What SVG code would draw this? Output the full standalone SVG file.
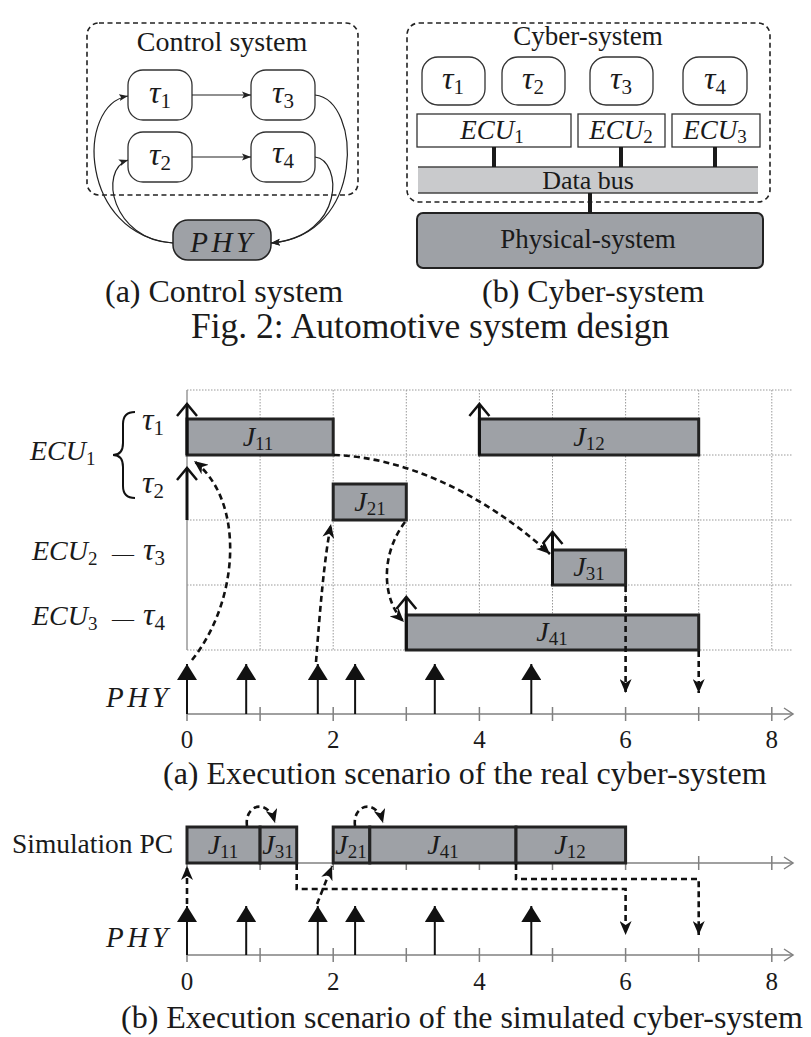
<svg xmlns="http://www.w3.org/2000/svg" width="811" height="1037" viewBox="0 0 811 1037">
<style>
.t{font-family:"Liberation Serif","Times New Roman",serif;fill:#1a1a1a}
.m{font-family:"Liberation Serif","Times New Roman",serif;font-style:italic;fill:#1a1a1a}
.s{font-style:normal}
.tau{font-size:32px}
.tsub{font-size:21px;font-style:normal}
.jl{font-size:28px}
.jsub{font-size:19px;font-style:normal}
.phyl{font-size:29px;letter-spacing:3.5px}
.dbox{fill:none;stroke:#222;stroke-width:1.6;stroke-dasharray:5 3.5}
.node{fill:#fff;stroke:#333;stroke-width:1.3}
.gray{fill:#9ea1a6;stroke:#222;stroke-width:2}
.bar{fill:#9ea1a6;stroke:#222;stroke-width:3}
.thin{fill:none;stroke:#222;stroke-width:1.2}
.grid{stroke:#999;stroke-width:1;stroke-dasharray:1.5 1.5;fill:none}
.axis{stroke:#808080;stroke-width:1.5;fill:none}
.rel{stroke:#111;stroke-width:3;fill:none}
.phy{stroke:#111;stroke-width:2;fill:none}
.dsh{stroke:#111;stroke-width:2.6;stroke-dasharray:6 4;fill:none}
.link{stroke:#1a1a1a;stroke-width:4}
</style>
<defs>
<marker id="sm" markerUnits="userSpaceOnUse" markerWidth="10" markerHeight="8" refX="9" refY="4" orient="auto"><path d="M0,0.5 L9,4 L0,7.5 L2,4 z" fill="#222"/></marker>
<marker id="st" markerUnits="userSpaceOnUse" markerWidth="16" markerHeight="12" refX="14" refY="6" orient="auto"><path d="M0,0 L14,6 L0,12 L4,6 z" fill="#111"/></marker>
<marker id="tri" markerUnits="userSpaceOnUse" markerWidth="17" markerHeight="20" refX="16" refY="10" orient="auto"><path d="M0,0 L16,10 L0,20 z" fill="#111"/></marker>
<marker id="op" markerUnits="userSpaceOnUse" markerWidth="16" markerHeight="24" refX="13" refY="11" orient="auto"><path d="M1,1 L13,11 L1,21" fill="none" stroke="#111" stroke-width="2.5"/></marker>
<marker id="ax" markerUnits="userSpaceOnUse" markerWidth="12" markerHeight="16" refX="10" refY="7" orient="auto"><path d="M1,1 L10,7 L1,13" fill="none" stroke="#808080" stroke-width="1.5"/></marker>
</defs>

<!-- ===== (a) Control system ===== -->
<g id="control-system-frame">
<rect class="dbox" x="87" y="23" width="271" height="172" rx="12"/>
<text class="t" x="222" y="51" font-size="28" text-anchor="middle">Control system</text>
</g>
<g id="cs-tau1"><rect class="node" x="128" y="70" width="64" height="50" rx="15"/><text class="m tau" x="160" y="103" text-anchor="middle">τ<tspan class="tsub" dy="5">1</tspan></text></g>
<g id="cs-tau3"><rect class="node" x="251" y="70" width="64" height="50" rx="15"/><text class="m tau" x="283" y="103" text-anchor="middle">τ<tspan class="tsub" dy="5">3</tspan></text></g>
<g id="cs-tau2"><rect class="node" x="128" y="132" width="64" height="50" rx="15"/><text class="m tau" x="160" y="165" text-anchor="middle">τ<tspan class="tsub" dy="5">2</tspan></text></g>
<g id="cs-tau4"><rect class="node" x="251" y="132" width="64" height="50" rx="15"/><text class="m tau" x="283" y="163" text-anchor="middle">τ<tspan class="tsub" dy="5">4</tspan></text></g>
<g id="cs-phy"><rect class="gray" x="173" y="220" width="98" height="40" rx="15" style="stroke-width:1.5"/><text class="m phyl" x="223" y="252" text-anchor="middle">PHY</text></g>
<g id="cs-connectors">
<path class="thin" d="M192 95 L251 95" marker-end="url(#sm)"/>
<path class="thin" d="M192 157 L251 157" marker-end="url(#sm)"/>
<path class="thin" d="M173 243 C80 235 75 105 128 96" marker-end="url(#sm)"/>
<path class="thin" d="M173 243 C112 240 98 170 128 160" marker-end="url(#sm)"/>
<path class="thin" d="M315 95 C362 100 366 236 271 243" marker-end="url(#sm)"/>
<path class="thin" d="M315 157 C342 160 346 236 271 243" marker-end="url(#sm)"/>
</g>
<text class="t" x="105" y="302" font-size="32">(a) Control system</text>

<!-- ===== (b) Cyber-system ===== -->
<g id="cyber-system-frame">
<rect class="dbox" x="407" y="23" width="363" height="179" rx="12"/>
<text class="t" x="588" y="45" font-size="27" text-anchor="middle">Cyber-system</text>
</g>
<g id="cy-tau1"><rect class="node" x="422" y="57" width="63" height="48" rx="16"/><text class="m tau" x="453" y="89" text-anchor="middle">τ<tspan class="tsub" dy="5">1</tspan></text></g>
<g id="cy-tau2"><rect class="node" x="502" y="57" width="63" height="48" rx="16"/><text class="m tau" x="533" y="89" text-anchor="middle">τ<tspan class="tsub" dy="5">2</tspan></text></g>
<g id="cy-tau3"><rect class="node" x="590" y="57" width="63" height="48" rx="16"/><text class="m tau" x="621" y="89" text-anchor="middle">τ<tspan class="tsub" dy="5">3</tspan></text></g>
<g id="cy-tau4"><rect class="node" x="683" y="57" width="64" height="48" rx="16"/><text class="m tau" x="715" y="89" text-anchor="middle">τ<tspan class="tsub" dy="5">4</tspan></text></g>
<g id="cy-ecu1"><rect class="node" x="417" y="114" width="154" height="33"/><text class="m" x="492" y="139" font-size="27" text-anchor="middle">ECU<tspan class="s" font-size="19" dy="4">1</tspan></text></g>
<g id="cy-ecu2"><rect class="node" x="578" y="114" width="87" height="33"/><text class="m" x="621" y="139" font-size="27" text-anchor="middle">ECU<tspan class="s" font-size="19" dy="4">2</tspan></text></g>
<g id="cy-ecu3"><rect class="node" x="672" y="114" width="88" height="33"/><text class="m" x="715" y="139" font-size="27" text-anchor="middle">ECU<tspan class="s" font-size="19" dy="4">3</tspan></text></g>
<g id="cy-bus">
<rect x="418" y="167" width="340" height="26" fill="#c9cacc"/>
<line x1="418" y1="167" x2="758" y2="167" stroke="#444" stroke-width="1.5"/>
<line x1="418" y1="193" x2="758" y2="193" stroke="#444" stroke-width="1.5"/>
<text class="t" x="588" y="189" font-size="26" text-anchor="middle">Data bus</text>
</g>
<g id="cy-physical"><rect class="gray" x="417" y="213" width="346" height="55" rx="6"/><text class="t" x="588" y="248" font-size="27" text-anchor="middle">Physical-system</text></g>
<g id="cy-connectors">
<line class="link" x1="494" y1="147" x2="494" y2="167"/>
<line class="link" x1="621" y1="147" x2="621" y2="167"/>
<line class="link" x1="715" y1="147" x2="715" y2="167"/>
<line class="link" x1="590" y1="193" x2="590" y2="213"/>
</g>
<text class="t" x="482" y="302" font-size="32">(b) Cyber-system</text>
<text class="t" x="191" y="338" font-size="35.5">Fig. 2: Automotive system design</text>

<!-- ===== Execution scenario (a) ===== -->
<g id="grid-a">
<path class="grid" d="M187 390 H793 M187 455 H793 M187 520 H793 M187 585 H793 M187 650 H793"/>
<path class="grid" d="M260.1 390 V650 M333.2 390 V650 M406.3 390 V650 M479.4 390 V650 M552.5 390 V650 M625.6 390 V650 M698.7 390 V650 M771.8 390 V650"/>
<line x1="187" y1="390" x2="187" y2="650" stroke="#999" stroke-width="1.5"/>
</g>
<g id="labels-a">
<text class="m" x="30" y="460" font-size="28">ECU<tspan class="s" font-size="19" dy="5">1</tspan></text>
<path d="M135 412 Q123 412 123 424 L123 443 Q123 455 113 455 Q123 455 123 467 L123 486 Q123 498 135 498" fill="none" stroke="#111" stroke-width="2"/>
<text class="m tau" x="142" y="430">τ<tspan class="tsub" dy="5">1</tspan></text>
<text class="m tau" x="142" y="493">τ<tspan class="tsub" dy="5">2</tspan></text>
<text class="m" x="32" y="560" font-size="28">ECU<tspan class="s" font-size="19" dy="5">2</tspan></text>
<text class="t" x="112" y="561" font-size="22">—</text>
<text class="m tau" x="143" y="560">τ<tspan class="tsub" dy="5">3</tspan></text>
<text class="m" x="32" y="625" font-size="28">ECU<tspan class="s" font-size="19" dy="5">3</tspan></text>
<text class="t" x="112" y="626" font-size="22">—</text>
<text class="m tau" x="143" y="625">τ<tspan class="tsub" dy="5">4</tspan></text>
<text class="m phyl" x="106" y="707">PHY</text>
</g>
<g id="job-a-J11"><rect class="bar" x="187" y="419" width="146.2" height="36"/><text class="m jl" x="258" y="446" text-anchor="middle">J<tspan class="jsub" dy="4">11</tspan></text></g>
<g id="job-a-J12"><rect class="bar" x="479.4" y="419" width="219.3" height="36"/><text class="m jl" x="589" y="446" text-anchor="middle">J<tspan class="jsub" dy="4">12</tspan></text></g>
<g id="job-a-J21"><rect class="bar" x="333.2" y="484" width="73.1" height="36"/><text class="m jl" x="370" y="511" text-anchor="middle">J<tspan class="jsub" dy="4">21</tspan></text></g>
<g id="job-a-J31"><rect class="bar" x="552.5" y="550" width="73.1" height="35"/><text class="m jl" x="589" y="576" text-anchor="middle">J<tspan class="jsub" dy="4">31</tspan></text></g>
<g id="job-a-J41"><rect class="bar" x="406.3" y="615" width="292.4" height="35"/><text class="m jl" x="552" y="641" text-anchor="middle">J<tspan class="jsub" dy="4">41</tspan></text></g>
<g id="axis-a">
<line class="axis" x1="187" y1="714" x2="793" y2="714" marker-end="url(#ax)"/>
<path class="axis" d="M187 707 V721 M260.1 707 V721 M333.2 707 V721 M406.3 707 V721 M479.4 707 V721 M552.5 707 V721 M625.6 707 V721 M698.7 707 V721 M771.8 707 V721"/>
<text class="t" x="187" y="748" font-size="25" text-anchor="middle">0</text>
<text class="t" x="333.2" y="748" font-size="25" text-anchor="middle">2</text>
<text class="t" x="479.4" y="748" font-size="25" text-anchor="middle">4</text>
<text class="t" x="625.6" y="748" font-size="25" text-anchor="middle">6</text>
<text class="t" x="771.8" y="748" font-size="25" text-anchor="middle">8</text>
</g>
<g id="connectors-a">
<path class="rel" d="M187 455 V404" marker-end="url(#op)"/>
<path class="rel" d="M187 520 V468" marker-end="url(#op)"/>
<path class="rel" d="M479.4 455 V404" marker-end="url(#op)"/>
<path class="rel" d="M552.5 585 V532" marker-end="url(#op)"/>
<path class="rel" d="M406.3 650 V597" marker-end="url(#op)"/>
<path class="phy" d="M187 714 V664" marker-end="url(#tri)"/>
<path class="phy" d="M246.2 714 V664" marker-end="url(#tri)"/>
<path class="phy" d="M317.8 714 V664" marker-end="url(#tri)"/>
<path class="phy" d="M355.1 714 V664" marker-end="url(#tri)"/>
<path class="phy" d="M434.8 714 V664" marker-end="url(#tri)"/>
<path class="phy" d="M531.3 714 V664" marker-end="url(#tri)"/>
<path class="dsh" d="M625.6 586 V693" marker-end="url(#st)"/>
<path class="dsh" d="M698.7 651 V693" marker-end="url(#st)"/>
<path class="dsh" d="M192 660 C240 600 245 500 194 461" marker-end="url(#st)"/>
<path class="dsh" d="M316 662 C320 610 324 560 331 524" marker-end="url(#st)"/>
<path class="dsh" d="M405 522 C380 555 382 600 404 622" marker-end="url(#st)"/>
<path class="dsh" d="M334 455 C400 457 480 490 550 554" marker-end="url(#st)"/>
</g>
<text class="t" x="163" y="784" font-size="32">(a) Execution scenario of the real cyber-system</text>

<!-- ===== Execution scenario (b) ===== -->
<g id="axis-b-pc">
<line class="axis" x1="187" y1="863" x2="793" y2="863" marker-end="url(#ax)"/>
<path class="axis" d="M187 856 V870 M260.1 856 V870 M333.2 856 V870 M406.3 856 V870 M479.4 856 V870 M552.5 856 V870 M625.6 856 V870 M698.7 856 V870 M771.8 856 V870"/>
<text class="t" x="12" y="853" font-size="28" textLength="161" lengthAdjust="spacingAndGlyphs">Simulation PC</text>
</g>
<g id="job-b-J11"><rect class="bar" x="187" y="827" width="73.1" height="36"/><text class="m jl" x="223" y="854" text-anchor="middle">J<tspan class="jsub" dy="4">11</tspan></text></g>
<g id="job-b-J31"><rect class="bar" x="260.1" y="827" width="36.6" height="36"/><text class="m jl" x="278" y="854" text-anchor="middle">J<tspan class="jsub" dy="4">31</tspan></text></g>
<g id="job-b-J21"><rect class="bar" x="333.2" y="827" width="36.6" height="36"/><text class="m jl" x="351" y="854" text-anchor="middle">J<tspan class="jsub" dy="4">21</tspan></text></g>
<g id="job-b-J41"><rect class="bar" x="369.8" y="827" width="146.2" height="36"/><text class="m jl" x="443" y="854" text-anchor="middle">J<tspan class="jsub" dy="4">41</tspan></text></g>
<g id="job-b-J12"><rect class="bar" x="516" y="827" width="109.6" height="36"/><text class="m jl" x="570" y="854" text-anchor="middle">J<tspan class="jsub" dy="4">12</tspan></text></g>
<g id="axis-b-phy">
<line class="axis" x1="187" y1="955" x2="793" y2="955" marker-end="url(#ax)"/>
<path class="axis" d="M187 948 V962 M260.1 948 V962 M333.2 948 V962 M406.3 948 V962 M479.4 948 V962 M552.5 948 V962 M625.6 948 V962 M698.7 948 V962 M771.8 948 V962"/>
<text class="m phyl" x="106" y="947">PHY</text>
<text class="t" x="187" y="990" font-size="25" text-anchor="middle">0</text>
<text class="t" x="333.2" y="990" font-size="25" text-anchor="middle">2</text>
<text class="t" x="479.4" y="990" font-size="25" text-anchor="middle">4</text>
<text class="t" x="625.6" y="990" font-size="25" text-anchor="middle">6</text>
<text class="t" x="771.8" y="990" font-size="25" text-anchor="middle">8</text>
</g>
<g id="connectors-b">
<path class="phy" d="M187 955 V906" marker-end="url(#tri)"/>
<path class="phy" d="M246.2 955 V906" marker-end="url(#tri)"/>
<path class="phy" d="M317.8 955 V906" marker-end="url(#tri)"/>
<path class="phy" d="M355.1 955 V906" marker-end="url(#tri)"/>
<path class="phy" d="M434.8 955 V906" marker-end="url(#tri)"/>
<path class="phy" d="M531.3 955 V906" marker-end="url(#tri)"/>
<path class="dsh" d="M187 904 V866" marker-end="url(#st)"/>
<path class="dsh" d="M317 904 L332 866" marker-end="url(#st)"/>
<path class="dsh" d="M296.7 864 V889 H625.6 V935" marker-end="url(#st)"/>
<path class="dsh" d="M516 864 V879 H698.7 V935" marker-end="url(#st)"/>
<path class="dsh" d="M247 826 C244 805 268 797 275 823" marker-end="url(#st)"/>
<path class="dsh" d="M355 826 C352 805 376 797 383 823" marker-end="url(#st)"/>
</g>
<text class="t" x="121" y="1028" font-size="32">(b) Execution scenario of the simulated cyber-system</text>
</svg>
